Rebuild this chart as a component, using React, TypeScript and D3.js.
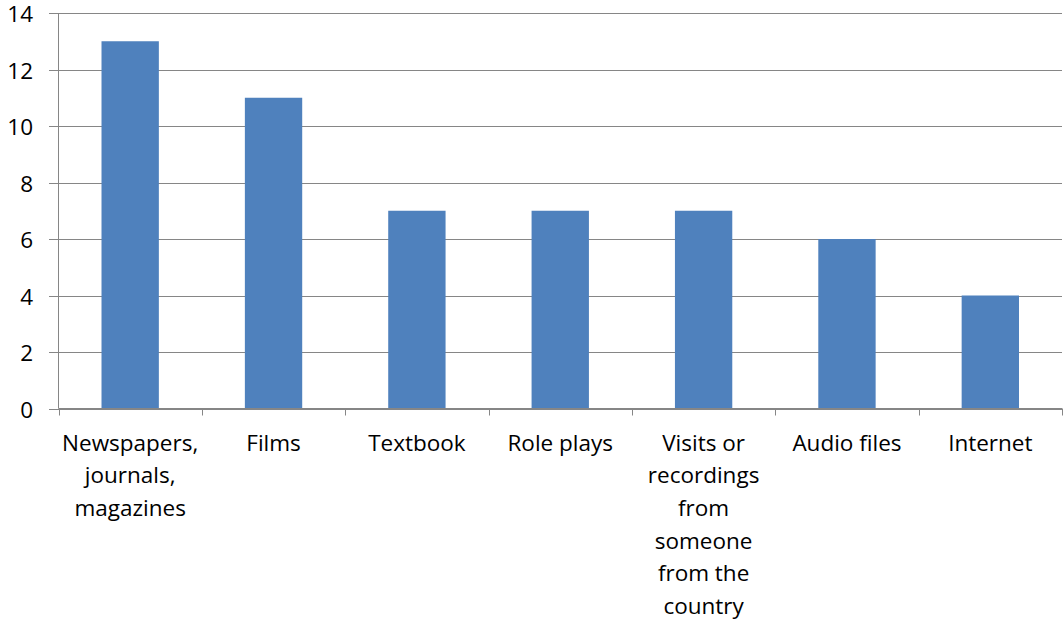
import React from "react";
import * as d3 from "d3";

const categories = [
  "Newspapers, journals, magazines",
  "Films",
  "Textbook",
  "Role plays",
  "Visits or recordings from someone from the country",
  "Audio files",
  "Internet",
];
const labelLines = [
  ["Newspapers,", "journals,", "magazines"],
  ["Films"],
  ["Textbook"],
  ["Role plays"],
  ["Visits or", "recordings", "from", "someone", "from the", "country"],
  ["Audio files"],
  ["Internet"],
];
const values = [13, 11, 7, 7, 7, 6, 4];
const yTicks = [0, 2, 4, 6, 8, 10, 12, 14];

export default function App() {
  const W = 1064, H = 621;
  const left = 58.5, right = 1062, top = 13, bottom = 408.5;
  const x = d3.scaleBand<string>().domain(categories).range([left, right]).paddingInner(0.6).paddingOuter(0.3);
  const y = d3.scaleLinear().domain([0, 14]).range([bottom, top]);
  const step = (right - left) / categories.length;
  const font = "Open Sans, sans-serif";
  const fs = 22.5;
  return (
    <svg width={W} height={H} style={{ position: "absolute", left: 0, top: 0 }} fontFamily={font}>
      <rect width={W} height={H} fill="#fff" />
      {yTicks.map((t) => (
        <g key={t}>
          <line x1={49} x2={right} y1={Math.round(y(t)) + 0.5} y2={Math.round(y(t)) + 0.5} stroke="#868686" strokeWidth={1} />
          <text x={33} y={y(t) + 1.2} dy="0.35em" textAnchor="end" fontSize={fs} fill="#000">{t}</text>
        </g>
      ))}
      {categories.map((c, i) => (
        <rect key={c} x={x(c)} y={y(values[i])} width={x.bandwidth()} height={y(0) - y(values[i])} fill="#4F81BD" />
      ))}
      <line x1={left} x2={left} y1={top} y2={bottom} stroke="#868686" />
      <line x1={left} x2={right} y1={bottom} y2={bottom} stroke="#868686" />
      {d3.range(categories.length + 1).map((i) => {
        const xx = Math.round(left + i * step) + 0.5;
        return <line key={i} x1={xx} x2={xx} y1={bottom} y2={bottom + 7} stroke="#868686" />;
      })}
      {categories.map((c, i) => (
        <text key={c} textAnchor="middle" fontSize={fs} fill="#000">
          {labelLines[i].map((ln, j) => (
            <tspan key={j} x={x(c)! + x.bandwidth() / 2} y={443 + j * 32.6} dy="0.35em">{ln}</tspan>
          ))}
        </text>
      ))}
    </svg>
  );
}
